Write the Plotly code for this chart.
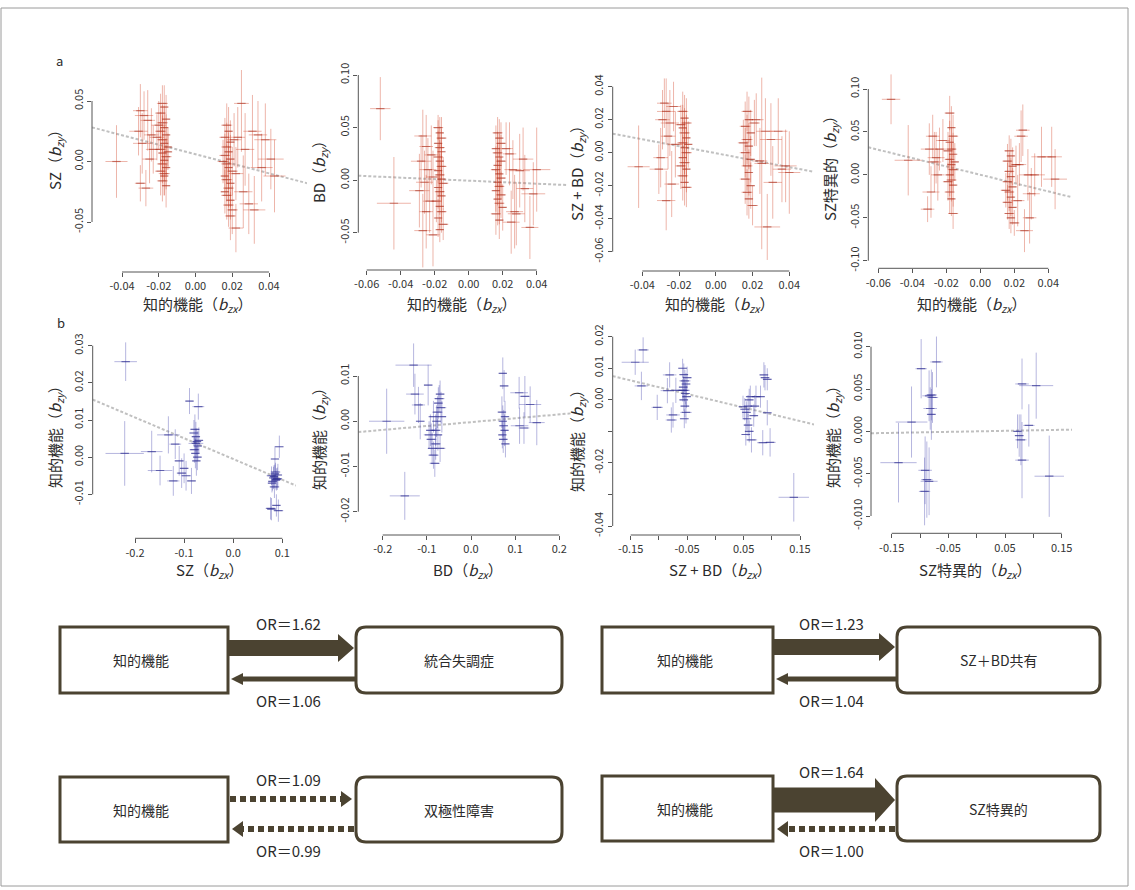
import plotly.graph_objects as go

W, H = 1135, 890
FONT = "Noto Sans CJK JP"
AXC = "#555555"
TXT = "#2b2b2b"
BROWN = "#4b4331"

# ---------------- data: (x, y, se_x, se_y) per SNP ----------------
a1_points = [
    (-0.018, 0.048, 0.003, 0.015), (-0.017, 0.045, 0.002, 0.018), (-0.019, 0.040, 0.003, 0.016),
    (-0.016, 0.035, 0.002, 0.020), (-0.018, 0.032, 0.003, 0.015), (-0.017, 0.028, 0.002, 0.018),
    (-0.019, 0.025, 0.003, 0.016), (-0.016, 0.022, 0.002, 0.017), (-0.018, 0.018, 0.003, 0.020),
    (-0.017, 0.015, 0.002, 0.015), (-0.015, 0.012, 0.002, 0.016), (-0.019, 0.010, 0.003, 0.018),
    (-0.018, 0.007, 0.002, 0.020), (-0.016, 0.004, 0.003, 0.015), (-0.017, 0.001, 0.002, 0.017),
    (-0.018, -0.002, 0.003, 0.016), (-0.016, -0.005, 0.002, 0.018), (-0.019, -0.008, 0.003, 0.020),
    (-0.017, -0.012, 0.002, 0.016), (-0.018, -0.016, 0.003, 0.017), (-0.016, -0.020, 0.002, 0.018),
    (-0.020, 0.030, 0.004, 0.020), (-0.021, 0.020, 0.004, 0.019), (-0.015, 0.008, 0.002, 0.015),
    (-0.017, -0.010, 0.003, 0.018),
    (-0.030, 0.042, 0.004, 0.022), (-0.028, 0.038, 0.005, 0.020), (-0.026, 0.034, 0.004, 0.025),
    (-0.031, 0.025, 0.005, 0.020), (-0.024, 0.022, 0.004, 0.022), (-0.029, 0.015, 0.005, 0.025),
    (-0.023, 0.010, 0.004, 0.020), (-0.030, -0.018, 0.003, 0.015), (-0.027, -0.022, 0.004, 0.015),
    (-0.025, 0.002, 0.004, 0.020), (-0.043, 0.000, 0.006, 0.030),
    (0.017, 0.030, 0.003, 0.018), (0.018, 0.025, 0.002, 0.020), (0.016, 0.020, 0.003, 0.016),
    (0.019, 0.016, 0.002, 0.018), (0.017, 0.012, 0.003, 0.020), (0.018, 0.008, 0.002, 0.016),
    (0.016, 0.005, 0.003, 0.018), (0.019, 0.002, 0.002, 0.020), (0.017, -0.002, 0.003, 0.016),
    (0.018, -0.005, 0.002, 0.018), (0.020, -0.008, 0.003, 0.020), (0.016, -0.012, 0.002, 0.016),
    (0.017, -0.015, 0.003, 0.018), (0.019, -0.018, 0.002, 0.020), (0.018, -0.022, 0.003, 0.016),
    (0.016, -0.025, 0.002, 0.018), (0.017, -0.028, 0.003, 0.020), (0.019, -0.032, 0.002, 0.016),
    (0.018, -0.036, 0.003, 0.018), (0.020, -0.040, 0.003, 0.020), (0.019, -0.045, 0.003, 0.020),
    (0.021, 0.018, 0.004, 0.022), (0.022, -0.010, 0.004, 0.022), (0.015, 0.000, 0.003, 0.018),
    (0.025, 0.048, 0.004, 0.040), (0.023, 0.020, 0.004, 0.025), (0.027, 0.010, 0.005, 0.030),
    (0.031, 0.025, 0.005, 0.030), (0.034, 0.022, 0.005, 0.028), (0.038, 0.018, 0.006, 0.030),
    (0.041, 0.002, 0.007, 0.025), (0.043, -0.012, 0.006, 0.030), (0.029, -0.035, 0.005, 0.025),
    (0.032, -0.040, 0.006, 0.028), (0.026, -0.025, 0.005, 0.030), (0.022, -0.055, 0.004, 0.020),
    (0.036, -0.005, 0.006, 0.028),
]

a2_points = [
    (-0.052, 0.068, 0.006, 0.030), (-0.044, -0.022, 0.010, 0.044),
    (-0.018, 0.050, 0.003, 0.012), (-0.017, 0.045, 0.002, 0.015), (-0.016, 0.040, 0.003, 0.020),
    (-0.018, 0.035, 0.002, 0.022), (-0.017, 0.031, 0.003, 0.020), (-0.016, 0.027, 0.002, 0.022),
    (-0.018, 0.022, 0.003, 0.025), (-0.017, 0.018, 0.002, 0.020), (-0.016, 0.013, 0.003, 0.022),
    (-0.018, 0.009, 0.002, 0.025), (-0.017, 0.005, 0.003, 0.020), (-0.016, 0.001, 0.002, 0.022),
    (-0.015, -0.003, 0.003, 0.025), (-0.018, -0.007, 0.002, 0.020), (-0.017, -0.011, 0.003, 0.022),
    (-0.016, -0.015, 0.002, 0.025), (-0.019, -0.020, 0.003, 0.020), (-0.017, -0.025, 0.002, 0.022),
    (-0.016, -0.030, 0.003, 0.020), (-0.018, -0.036, 0.002, 0.018), (-0.015, -0.042, 0.003, 0.015),
    (-0.017, -0.047, 0.002, 0.012),
    (-0.027, 0.042, 0.005, 0.025), (-0.025, 0.032, 0.004, 0.030), (-0.022, 0.024, 0.004, 0.028),
    (-0.028, 0.018, 0.006, 0.025), (-0.024, 0.010, 0.005, 0.030), (-0.021, 0.003, 0.004, 0.025),
    (-0.026, -0.002, 0.005, 0.030), (-0.029, -0.010, 0.006, 0.035), (-0.023, -0.020, 0.004, 0.030),
    (-0.027, -0.048, 0.005, 0.035), (-0.021, -0.052, 0.004, 0.030), (-0.025, -0.030, 0.004, 0.035),
    (0.017, 0.045, 0.003, 0.015), (0.018, 0.040, 0.002, 0.018), (0.019, 0.035, 0.003, 0.020),
    (0.016, 0.030, 0.002, 0.022), (0.017, 0.026, 0.003, 0.020), (0.018, 0.022, 0.002, 0.022),
    (0.019, 0.018, 0.003, 0.025), (0.017, 0.014, 0.002, 0.020), (0.016, 0.010, 0.003, 0.022),
    (0.018, 0.006, 0.002, 0.025), (0.019, 0.002, 0.003, 0.020), (0.017, -0.002, 0.002, 0.022),
    (0.018, -0.006, 0.003, 0.025), (0.016, -0.010, 0.002, 0.020), (0.019, -0.014, 0.003, 0.022),
    (0.017, -0.018, 0.002, 0.025), (0.018, -0.022, 0.003, 0.020), (0.020, -0.026, 0.002, 0.022),
    (0.016, -0.032, 0.003, 0.020), (0.018, -0.038, 0.002, 0.018),
    (0.022, 0.030, 0.004, 0.025), (0.024, 0.025, 0.004, 0.030), (0.026, 0.010, 0.005, 0.028),
    (0.028, -0.032, 0.005, 0.030), (0.030, 0.009, 0.006, 0.035), (0.032, 0.020, 0.006, 0.030),
    (0.033, -0.008, 0.005, 0.032), (0.036, -0.045, 0.005, 0.030), (0.038, -0.013, 0.007, 0.030),
    (0.040, 0.010, 0.008, 0.040), (0.025, -0.040, 0.005, 0.030), (0.027, -0.030, 0.005, 0.035),
]

a3_points = [
    (-0.042, -0.0085, 0.006, 0.025),
    (-0.028, 0.030, 0.004, 0.015), (-0.027, 0.025, 0.005, 0.020), (-0.029, 0.020, 0.004, 0.018),
    (-0.025, 0.018, 0.005, 0.020), (-0.023, 0.028, 0.004, 0.015), (-0.030, -0.003, 0.004, 0.018),
    (-0.031, -0.010, 0.005, 0.015), (-0.024, -0.019, 0.004, 0.020), (-0.027, -0.029, 0.005, 0.018),
    (-0.022, 0.005, 0.004, 0.020), (-0.026, 0.010, 0.004, 0.020),
    (-0.018, 0.025, 0.003, 0.012), (-0.017, 0.021, 0.002, 0.014), (-0.016, 0.018, 0.003, 0.015),
    (-0.018, 0.015, 0.002, 0.014), (-0.017, 0.012, 0.003, 0.015), (-0.016, 0.009, 0.002, 0.014),
    (-0.018, 0.006, 0.003, 0.015), (-0.017, 0.003, 0.002, 0.016), (-0.016, 0.000, 0.003, 0.015),
    (-0.018, -0.003, 0.002, 0.014), (-0.017, -0.006, 0.003, 0.015), (-0.016, -0.010, 0.002, 0.014),
    (-0.018, -0.014, 0.003, 0.015), (-0.017, -0.018, 0.002, 0.014), (-0.016, -0.021, 0.003, 0.012),
    (-0.019, 0.017, 0.003, 0.012), (-0.015, 0.005, 0.002, 0.014), (-0.019, -0.008, 0.003, 0.014),
    (0.017, 0.025, 0.003, 0.012), (0.018, 0.020, 0.002, 0.014), (0.016, 0.016, 0.003, 0.015),
    (0.019, 0.012, 0.002, 0.014), (0.017, 0.008, 0.003, 0.015), (0.018, 0.004, 0.002, 0.014),
    (0.016, 0.000, 0.003, 0.015), (0.019, -0.004, 0.002, 0.014), (0.017, -0.008, 0.003, 0.015),
    (0.018, -0.012, 0.002, 0.014), (0.016, -0.016, 0.003, 0.015), (0.019, -0.020, 0.002, 0.014),
    (0.017, -0.024, 0.003, 0.014), (0.018, -0.028, 0.002, 0.012), (0.020, -0.032, 0.003, 0.012),
    (0.021, 0.018, 0.003, 0.014), (0.015, 0.006, 0.003, 0.014),
    (0.022, 0.020, 0.004, 0.016), (0.025, -0.0065, 0.004, 0.052), (0.027, 0.013, 0.005, 0.020),
    (0.030, 0.008, 0.006, 0.022), (0.034, 0.013, 0.005, 0.020), (0.038, -0.008, 0.006, 0.022),
    (0.040, -0.012, 0.006, 0.025), (0.031, -0.018, 0.005, 0.022), (0.028, -0.045, 0.007, 0.020),
    (0.024, -0.005, 0.004, 0.020), (0.036, -0.010, 0.005, 0.020),
]

a4_points = [
    (-0.0525, 0.088, 0.0054, 0.029), (-0.0424, 0.017, 0.008, 0.041),
    (-0.030, 0.030, 0.005, 0.030), (-0.028, 0.045, 0.004, 0.025), (-0.026, 0.020, 0.005, 0.030),
    (-0.031, -0.040, 0.004, 0.015), (-0.029, -0.020, 0.005, 0.030), (-0.027, 0.015, 0.004, 0.035),
    (-0.024, 0.030, 0.004, 0.025), (-0.025, 0.000, 0.004, 0.030), (-0.022, 0.040, 0.004, 0.025),
    (-0.018, 0.072, 0.003, 0.020), (-0.017, 0.055, 0.002, 0.025), (-0.016, 0.045, 0.003, 0.025),
    (-0.018, 0.038, 0.002, 0.025), (-0.017, 0.030, 0.003, 0.025), (-0.016, 0.024, 0.002, 0.025),
    (-0.018, 0.018, 0.003, 0.025), (-0.017, 0.012, 0.002, 0.025), (-0.016, 0.006, 0.003, 0.025),
    (-0.018, 0.000, 0.002, 0.025), (-0.017, -0.006, 0.003, 0.025), (-0.016, -0.012, 0.002, 0.025),
    (-0.018, -0.020, 0.003, 0.025), (-0.017, -0.028, 0.002, 0.020), (-0.016, -0.045, 0.003, 0.018),
    (-0.019, 0.028, 0.003, 0.022), (-0.015, 0.015, 0.002, 0.022), (-0.019, -0.008, 0.003, 0.022),
    (0.017, 0.028, 0.003, 0.018), (0.018, 0.022, 0.002, 0.020), (0.016, 0.016, 0.003, 0.020),
    (0.019, 0.010, 0.002, 0.022), (0.017, 0.004, 0.003, 0.022), (0.018, -0.002, 0.002, 0.022),
    (0.016, -0.008, 0.003, 0.022), (0.019, -0.014, 0.002, 0.022), (0.017, -0.020, 0.003, 0.022),
    (0.018, -0.026, 0.002, 0.022), (0.016, -0.032, 0.003, 0.020), (0.019, -0.038, 0.002, 0.020),
    (0.017, -0.045, 0.003, 0.018), (0.018, -0.050, 0.002, 0.018), (0.020, -0.056, 0.003, 0.015),
    (0.021, 0.012, 0.003, 0.022), (0.015, -0.018, 0.003, 0.020),
    (0.024, 0.045, 0.004, 0.030), (0.025, 0.052, 0.004, 0.030), (0.028, 0.000, 0.005, 0.030),
    (0.030, -0.022, 0.005, 0.030), (0.032, 0.000, 0.006, 0.025), (0.029, -0.050, 0.004, 0.030),
    (0.026, -0.065, 0.005, 0.025), (0.036, 0.021, 0.006, 0.035), (0.042, 0.021, 0.006, 0.035),
    (0.044, -0.005, 0.007, 0.035), (0.022, -0.030, 0.004, 0.030), (0.023, 0.012, 0.004, 0.025),
]

b1_points = [
    (-0.219, 0.0257, 0.023, 0.0052), (-0.221, 0.0010, 0.039, 0.0087), (-0.166, 0.0015, 0.022, 0.0056),
    (-0.149, -0.0036, 0.025, 0.0040), (-0.132, 0.0060, 0.023, 0.0050), (-0.118, 0.0035, 0.012, 0.0040),
    (-0.122, -0.0064, 0.0125, 0.0040), (-0.110, -0.0010, 0.010, 0.0040), (-0.105, -0.0043, 0.010, 0.0040),
    (-0.100, -0.0030, 0.009, 0.0040), (-0.096, -0.0050, 0.010, 0.0040), (-0.085, -0.0064, 0.0092, 0.0035),
    (-0.089, 0.0151, 0.008, 0.0035), (-0.071, 0.0136, 0.012, 0.0035), (-0.078, 0.0075, 0.010, 0.0040),
    (-0.076, 0.0055, 0.008, 0.0040), (-0.074, 0.0042, 0.009, 0.0035), (-0.072, 0.0030, 0.008, 0.0040),
    (-0.079, 0.0020, 0.010, 0.0035), (-0.077, 0.0010, 0.008, 0.0040), (-0.073, 0.0000, 0.009, 0.0035),
    (-0.075, -0.0010, 0.008, 0.0040), (-0.080, 0.0065, 0.010, 0.0035), (-0.070, 0.0045, 0.009, 0.0035),
    (-0.076, 0.0037, 0.015, 0.0040),
    (0.078, -0.0050, 0.010, 0.0025), (0.082, -0.0056, 0.009, 0.0030), (0.085, -0.0045, 0.008, 0.0025),
    (0.088, -0.0060, 0.010, 0.0030), (0.080, -0.0065, 0.009, 0.0025), (0.083, -0.0052, 0.008, 0.0030),
    (0.086, -0.0040, 0.010, 0.0025), (0.090, -0.0058, 0.009, 0.0030), (0.079, -0.0070, 0.008, 0.0025),
    (0.084, -0.0080, 0.010, 0.0030), (0.087, -0.0062, 0.009, 0.0025), (0.091, -0.0048, 0.008, 0.0030),
    (0.076, -0.0138, 0.010, 0.0030), (0.094, 0.0028, 0.008, 0.0030), (0.085, -0.0005, 0.008, 0.0035),
    (0.078, -0.0140, 0.009, 0.0030), (0.092, -0.0144, 0.010, 0.0030), (0.088, -0.0130, 0.008, 0.0030),
]

b2_points = [
    (-0.191, 0.0000, 0.040, 0.0072), (-0.150, -0.0165, 0.034, 0.0053), (-0.130, 0.0124, 0.041, 0.0048),
    (-0.127, 0.0060, 0.020, 0.0045), (-0.119, 0.0036, 0.015, 0.0040), (-0.097, 0.0080, 0.010, 0.0045),
    (-0.115, 0.0000, 0.010, 0.0040), (-0.095, -0.0030, 0.012, 0.0030), (-0.090, -0.0040, 0.012, 0.0035),
    (-0.088, -0.0060, 0.010, 0.0035), (-0.085, -0.0075, 0.012, 0.0030), (-0.082, -0.0093, 0.012, 0.0030),
    (-0.080, -0.0020, 0.012, 0.0035), (-0.078, 0.0000, 0.010, 0.0035), (-0.076, 0.0020, 0.012, 0.0035),
    (-0.074, 0.0040, 0.010, 0.0035), (-0.072, 0.0050, 0.012, 0.0030), (-0.070, 0.0060, 0.010, 0.0030),
    (-0.068, 0.0030, 0.012, 0.0035), (-0.066, 0.0010, 0.010, 0.0035), (-0.080, -0.0050, 0.012, 0.0035),
    (-0.075, -0.0030, 0.010, 0.0035), (-0.070, -0.0060, 0.012, 0.0030), (-0.085, 0.0010, 0.012, 0.0035),
    (-0.092, -0.0020, 0.010, 0.0035),
    (0.072, 0.0106, 0.008, 0.0035), (0.075, 0.0078, 0.010, 0.0035), (0.070, 0.0020, 0.008, 0.0035),
    (0.072, 0.0000, 0.008, 0.0035), (0.074, -0.0010, 0.010, 0.0035), (0.076, -0.0020, 0.008, 0.0035),
    (0.071, -0.0030, 0.008, 0.0030), (0.073, -0.0040, 0.010, 0.0030), (0.077, 0.0010, 0.008, 0.0035),
    (0.078, -0.0050, 0.008, 0.0030), (0.109, 0.0063, 0.020, 0.0035), (0.122, 0.0055, 0.012, 0.0045),
    (0.134, 0.0037, 0.025, 0.0040), (0.110, -0.0010, 0.020, 0.0040), (0.149, -0.0003, 0.018, 0.0050),
    (0.120, -0.0015, 0.012, 0.0035),
]

b3_points = [
    (-0.142, 0.0119, 0.024, 0.0040), (-0.128, 0.0158, 0.010, 0.0040), (-0.131, 0.0044, 0.012, 0.0045),
    (-0.103, -0.0024, 0.010, 0.0040), (-0.081, 0.0079, 0.012, 0.0040), (-0.085, 0.0029, 0.012, 0.0040),
    (-0.075, -0.0048, 0.012, 0.0040), (-0.078, -0.0064, 0.010, 0.0040), (-0.070, 0.0030, 0.010, 0.0040),
    (-0.058, 0.0100, 0.008, 0.0030), (-0.056, 0.0080, 0.008, 0.0035), (-0.054, 0.0060, 0.010, 0.0035),
    (-0.052, 0.0050, 0.008, 0.0035), (-0.057, 0.0040, 0.008, 0.0035), (-0.055, 0.0030, 0.010, 0.0035),
    (-0.053, 0.0020, 0.008, 0.0035), (-0.051, 0.0010, 0.008, 0.0035), (-0.056, 0.0000, 0.008, 0.0035),
    (-0.054, -0.0020, 0.008, 0.0035), (-0.052, -0.0040, 0.010, 0.0035), (-0.055, -0.0060, 0.008, 0.0030),
    (-0.050, 0.0070, 0.008, 0.0035), (-0.058, 0.0030, 0.010, 0.0035),
    (0.049, -0.0022, 0.008, 0.0035), (0.052, -0.0030, 0.008, 0.0035), (0.055, -0.0040, 0.008, 0.0035),
    (0.058, -0.0020, 0.008, 0.0035), (0.060, 0.0000, 0.008, 0.0035), (0.062, 0.0010, 0.008, 0.0035),
    (0.056, -0.0060, 0.008, 0.0035), (0.058, -0.0080, 0.008, 0.0035), (0.060, -0.0100, 0.008, 0.0035),
    (0.054, -0.0110, 0.008, 0.0035), (0.064, -0.0127, 0.010, 0.0040), (0.068, -0.0050, 0.008, 0.0035),
    (0.070, -0.0020, 0.008, 0.0035), (0.072, 0.0010, 0.008, 0.0035), (0.080, 0.0010, 0.008, 0.0035),
    (0.086, 0.0079, 0.008, 0.0040), (0.088, 0.0070, 0.008, 0.0040), (0.092, 0.0065, 0.008, 0.0035),
    (0.092, -0.0041, 0.008, 0.0040), (0.084, -0.0136, 0.010, 0.0040), (0.097, -0.0135, 0.010, 0.0045),
    (0.139, -0.0309, 0.027, 0.0077),
]

b4_points = [
    (-0.138, -0.0037, 0.032, 0.0047), (-0.115, 0.0011, 0.028, 0.0042), (-0.098, 0.0074, 0.010, 0.0035),
    (-0.084, 0.0042, 0.012, 0.0030), (-0.080, 0.0043, 0.010, 0.0030), (-0.082, 0.0027, 0.012, 0.0025),
    (-0.078, 0.0040, 0.010, 0.0030), (-0.071, 0.0082, 0.011, 0.0030), (-0.091, -0.0046, 0.012, 0.0040),
    (-0.088, -0.0057, 0.010, 0.0045), (-0.092, -0.0071, 0.010, 0.0040), (-0.084, -0.0059, 0.015, 0.0040),
    (-0.080, 0.0020, 0.008, 0.0030),
    (0.080, 0.0056, 0.012, 0.0030), (0.105, 0.0054, 0.030, 0.0039), (0.075, -0.0005, 0.008, 0.0025),
    (0.078, -0.0010, 0.010, 0.0030), (0.080, -0.0034, 0.012, 0.0045), (0.092, 0.0007, 0.010, 0.0025),
    (0.072, 0.0000, 0.006, 0.0020), (0.128, -0.0053, 0.026, 0.0048),
]

# regression (MR slope, intercept) per panel
reg_slopes = [-0.394, -0.072, -0.211, -0.485, -0.0559, 0.0086, -0.0429, 0.0012]
reg_intercepts = [0.006, -0.0005, -0.0003, 0.0001, -0.0005, -0.0002, -0.0003, 0.0]

# axis ticks & labels (labelled ticks, plus unlabelled minor ticks)
a1_xticks = [-0.04, -0.02, 0.0, 0.02, 0.04]
a1_xlabels = ["-0.04", "-0.02", "0.00", "0.02", "0.04"]
a2_xticks = [-0.06, -0.04, -0.02, 0.0, 0.02, 0.04]
a2_xlabels = ["-0.06", "-0.04", "-0.02", "0.00", "0.02", "0.04"]
a1_yticks = [-0.05, 0.0, 0.05]
a1_ylabels = ["-0.05", "0.00", "0.05"]
a2_yticks = [-0.05, 0.0, 0.05, 0.10]
a2_ylabels = ["-0.05", "0.00", "0.05", "0.10"]
a3_yticks = [-0.06, -0.04, -0.02, 0.0, 0.02, 0.04]
a3_ylabels = ["-0.06", "-0.04", "-0.02", "0.00", "0.02", "0.04"]
a4_yticks = [-0.10, -0.05, 0.0, 0.05, 0.10]
a4_ylabels = ["-0.10", "-0.05", "0.00", "0.05", "0.10"]
b1_xticks = [-0.2, -0.1, 0.0, 0.1]
b1_xlabels = ["-0.2", "-0.1", "0.0", "0.1"]
b2_xticks = [-0.2, -0.1, 0.0, 0.1, 0.2]
b2_xlabels = ["-0.2", "-0.1", "0.0", "0.1", "0.2"]
b3_xticks = [-0.15, -0.05, 0.05, 0.15]
b3_xlabels = ["-0.15", "-0.05", "0.05", "0.15"]
b3_xminor = [-0.10, 0.0, 0.10]
b1_yticks = [-0.01, 0.0, 0.01, 0.02, 0.03]
b1_ylabels = ["-0.01", "0.00", "0.01", "0.02", "0.03"]
b2_yticks = [-0.02, -0.01, 0.0, 0.01]
b2_ylabels = ["-0.02", "-0.01", "0.00", "0.01"]
b3_yticks = [-0.04, -0.02, 0.0, 0.01, 0.02]
b3_ylabels = ["-0.04", "-0.02", "0.00", "0.01", "0.02"]
b3_yminor = [-0.03, -0.01]
b4_yticks = [-0.010, -0.005, 0.0, 0.005, 0.010]
b4_ylabels = ["-0.010", "-0.005", "0.000", "0.005", "0.010"]

traits = ["SZ", "BD", "SZ + BD", "SZ特異的"]
cognition = "知的機能"

# diagram data
outcomes = ["統合失調症", "SZ＋BD共有", "双極性障害", "SZ特異的"]
or_forward = [1.62, 1.23, 1.09, 1.64]
or_backward = [1.06, 1.04, 0.99, 1.00]
sig_forward = [True, True, False, True]
sig_backward = [True, True, False, False]


# ---------------- helpers ----------------
def X(p):
    return p / W


def Y(p):
    return 1 - p / H


def cal_range(v1, p1, v2, p2, pa, pb):
    k = (v2 - v1) / (p2 - p1)
    return [v1 + (pa - p1) * k, v1 + (pb - p1) * k]


def btitle(name, sub):
    return f"{name}（<i>b</i><sub><i>{sub}</i></sub>）"


def label(text, px, py, size, angle=0):
    return dict(text=text, xref="paper", yref="paper", x=X(px), y=Y(py), showarrow=False,
                xanchor="center", yanchor="middle", textangle=angle,
                font=dict(size=size, color=TXT, family=FONT))


RED_BAR = "rgba(212,78,52,0.42)"
RED_MK = "rgba(165,45,30,0.55)"
BLUE_BAR = "rgba(72,72,175,0.40)"
BLUE_MK = "rgba(40,40,140,0.6)"

panel_cfg = [
    dict(pts=a1_points, col=(RED_BAR, RED_MK), xcal=(-0.04, 122, 0.04, 269), ycal=(0.05, 101, -0.05, 222),
         box=(92, 307, 70, 272), xt=(a1_xticks, a1_xlabels, []), yt=(a1_yticks, a1_ylabels, []),
         xtitle=btitle(cognition, "zx"), xtpos=(198, 304), ytitle=btitle(traits[0], "zy"), ytpos=(55, 156)),
    dict(pts=a2_points, col=(RED_BAR, RED_MK), xcal=(-0.06, 366.7, 0.04, 536.7), ycal=(0.10, 75, -0.05, 232.7),
         box=(358.3, 567, 62, 270), xt=(a2_xticks, a2_xlabels, []), yt=(a2_yticks, a2_ylabels, []),
         xtitle=btitle(cognition, "zx"), xtpos=(462, 304), ytitle=btitle(traits[1], "zy"), ytpos=(319, 168)),
    dict(pts=a3_points, col=(RED_BAR, RED_MK), xcal=(-0.04, 642.3, 0.04, 789.3), ycal=(0.04, 86.7, -0.06, 251.7),
         box=(612.7, 813, 70, 271), xt=(a1_xticks, a1_xlabels, []), yt=(a3_yticks, a3_ylabels, []),
         xtitle=btitle(cognition, "zx"), xtpos=(720, 304), ytitle=btitle(traits[2], "zy"), ytpos=(577, 170)),
    dict(pts=a4_points, col=(RED_BAR, RED_MK), xcal=(-0.06, 878.3, 0.04, 1048.3), ycal=(0.10, 89, -0.10, 260.7),
         box=(868.3, 1072, 65, 268.3), xt=(a2_xticks, a2_xlabels, []), yt=(a4_yticks, a4_ylabels, []),
         xtitle=btitle(cognition, "zx"), xtpos=(972, 304), ytitle=btitle(traits[3], "zy"), ytpos=(830, 165)),
    dict(pts=b1_points, col=(BLUE_BAR, BLUE_MK), xcal=(-0.2, 135, 0.1, 282.3), ycal=(0.03, 345.7, -0.01, 494.3),
         box=(92.7, 296, 335, 538.3), xt=(b1_xticks, b1_xlabels, []), yt=(b1_yticks, b1_ylabels, []),
         xtitle=btitle(traits[0], "zx"), xtpos=(210, 570), ytitle=btitle(cognition, "zy"), ytpos=(55, 433)),
    dict(pts=b2_points, col=(BLUE_BAR, BLUE_MK), xcal=(-0.2, 382.7, 0.2, 559.3), ycal=(0.01, 376, -0.02, 511.7),
         box=(358.3, 571, 335, 535), xt=(b2_xticks, b2_xlabels, []), yt=(b2_yticks, b2_ylabels, []),
         xtitle=btitle(traits[1], "zx"), xtpos=(468, 570), ytitle=btitle(cognition, "zy"), ytpos=(319, 435)),
    dict(pts=b3_points, col=(BLUE_BAR, BLUE_MK), xcal=(-0.15, 630.7, 0.15, 800), ycal=(0.02, 336.7, -0.04, 526),
         box=(612.7, 814, 330, 535), xt=(b3_xticks, b3_xlabels, b3_xminor), yt=(b3_yticks, b3_ylabels, b3_yminor),
         xtitle=btitle(traits[2], "zx"), xtpos=(720, 570), ytitle=btitle(cognition, "zy"), ytpos=(577, 437)),
    dict(pts=b4_points, col=(BLUE_BAR, BLUE_MK), xcal=(-0.15, 891.7, 0.15, 1061.7), ycal=(0.010, 346.7, -0.010, 516),
         box=(871, 1072, 335, 533.3), xt=(b3_xticks, b3_xlabels, b3_xminor), yt=(b4_yticks, b4_ylabels, []),
         xtitle=btitle(traits[3], "zx"), xtpos=(975, 570), ytitle=btitle(cognition, "zy"), ytpos=(833, 433)),
]

fig = go.Figure()
layout = dict(
    template="none",
    width=W, height=H, margin=dict(l=0, r=0, t=0, b=0, pad=0),
    paper_bgcolor="white", plot_bgcolor="rgba(0,0,0,0)",
    showlegend=False, font=dict(family=FONT, color=TXT),
)
shapes = []
annotations = []

for i, cfg in enumerate(panel_cfg):
    n = i + 1
    xa = "x" if n == 1 else f"x{n}"
    ya = "y" if n == 1 else f"y{n}"
    left, right, top, bottom = cfg["box"]
    xr = cal_range(*cfg["xcal"], left, right)
    yr = cal_range(*cfg["ycal"], bottom, top)
    xkey = "xaxis" if n == 1 else f"xaxis{n}"
    ykey = "yaxis" if n == 1 else f"yaxis{n}"
    xt, xl, xm = cfg["xt"]
    yt, yl, ym = cfg["yt"]
    common = dict(showgrid=False, zeroline=False, showline=False, ticks="outside", ticklen=4,
                  tickwidth=1, tickcolor=AXC, fixedrange=True, automargin=False,
                  tickfont=dict(family=FONT, size=11, color="#333"))
    xminor = dict(tickmode="array", tickvals=xm, ticks="outside", ticklen=4, tickwidth=1,
                  tickcolor=AXC, showgrid=False) if xm else dict(ticks="")
    yminor = dict(tickmode="array", tickvals=ym, ticks="outside", ticklen=4, tickwidth=1,
                  tickcolor=AXC, showgrid=False) if ym else dict(ticks="")
    layout[xkey] = dict(domain=[X(left), X(right)], range=xr, anchor=ya, minor=xminor,
                        tickmode="array", tickvals=xt, ticktext=xl, **common)
    layout[ykey] = dict(domain=[Y(bottom), Y(top)], range=yr, anchor=xa, minor=yminor,
                        tickmode="array", tickvals=yt, ticktext=yl, tickangle=-90, **common)
    allx = sorted(xt + xm)
    ally = sorted(yt + ym)
    shapes.append(dict(type="line", xref=xa, yref=f"{ya} domain", x0=allx[0], x1=allx[-1], y0=0, y1=0,
                       line=dict(color=AXC, width=1)))
    shapes.append(dict(type="line", xref=f"{xa} domain", yref=ya, x0=0, x1=0, y0=ally[0], y1=ally[-1],
                       line=dict(color=AXC, width=1)))
    fig.add_trace(go.Scatter(
        x=[xr[0], xr[1]], y=[reg_intercepts[i] + reg_slopes[i] * v for v in xr],
        mode="lines", line=dict(color="rgba(165,165,165,0.7)", width=2, dash="3px,2px"),
        xaxis=xa, yaxis=ya, hoverinfo="skip"))
    pts = cfg["pts"]
    bar_col, mk_col = cfg["col"]
    fig.add_trace(go.Scatter(
        x=[p[0] for p in pts], y=[p[1] for p in pts], mode="markers",
        marker=dict(symbol="line-ew", size=6, line=dict(width=1.2, color=mk_col)),
        error_x=dict(type="data", array=[p[2] for p in pts], visible=True, color=bar_col, thickness=1, width=0),
        error_y=dict(type="data", array=[p[3] for p in pts], visible=True, color=bar_col, thickness=1, width=0),
        xaxis=xa, yaxis=ya, hoverinfo="skip"))
    annotations.append(label(cfg["xtitle"], cfg["xtpos"][0], cfg["xtpos"][1], 15))
    annotations.append(label(cfg["ytitle"], cfg["ytpos"][0], cfg["ytpos"][1], 15, -90))

annotations.append(label("a", 59, 61, 13))
annotations.append(label("b", 61, 322, 13))

# ---------------- diagram ----------------
left_box_x = [(60, 228), (602, 773), (60, 228), (602, 773)]
right_box_x = [(356, 562), (897, 1100), (356, 562), (897, 1100)]
box_y = [(627, 693), (627, 693), (777, 842), (776, 841)]
fwd_yc = [648, 647, 799, 800]
bwd_yc = [679, 679, 829, 829]
solid_fwd_geom = [(16, 16, 14), (16, 16, 14), None, (25, 20, 22)]
top_label_y = [623, 623, 779, 771]
bot_label_y = [700, 700, 850, 850]


def pstr(pts):
    return "M " + " L ".join(f"{X(a):.5f},{Y(b):.5f}" for a, b in pts) + " Z"


def arrow_path(x_from, x_to, yc, t, hl, hh):
    d = 1 if x_to > x_from else -1
    xb = x_to - d * hl
    pts = [(x_from, yc - t / 2), (xb, yc - t / 2), (xb, yc - hh), (x_to, yc),
           (xb, yc + hh), (xb, yc + t / 2), (x_from, yc + t / 2)]
    return pstr(pts)


def head_path(x_to, yc, hl, hh, d):
    xb = x_to - d * hl
    return pstr([(xb, yc - hh), (x_to, yc), (xb, yc + hh)])


def rrect_path(x0, y0, x1, y1, r):
    def P(a, b):
        return f"{X(a):.5f},{Y(b):.5f}"
    return (f"M {P(x0 + r, y0)} L {P(x1 - r, y0)} Q {P(x1, y0)} {P(x1, y0 + r)} "
            f"L {P(x1, y1 - r)} Q {P(x1, y1)} {P(x1 - r, y1)} L {P(x0 + r, y1)} "
            f"Q {P(x0, y1)} {P(x0, y1 - r)} L {P(x0, y0 + r)} Q {P(x0, y0)} {P(x0 + r, y0)} Z")


def dashed_arrow(x_from, x_to, yc, d):
    hl, hh, t = 11, 8, 6
    xb = x_to - d * hl
    shapes.append(dict(type="line", xref="paper", yref="paper", x0=X(x_from), x1=X(xb), y0=Y(yc), y1=Y(yc),
                       line=dict(color=BROWN, width=t, dash="6px,4px")))
    shapes.append(dict(type="path", xref="paper", yref="paper", path=head_path(x_to, yc, hl, hh, d),
                       fillcolor=BROWN, line=dict(color=BROWN, width=0)))


for i in range(4):
    lx0, lx1 = left_box_x[i]
    rx0, rx1 = right_box_x[i]
    by0, by1 = box_y[i]
    shapes.append(dict(type="rect", xref="paper", yref="paper", x0=X(lx0), x1=X(lx1), y0=Y(by1), y1=Y(by0),
                       line=dict(color=BROWN, width=3), fillcolor="white"))
    shapes.append(dict(type="path", xref="paper", yref="paper", path=rrect_path(rx0, by0, rx1, by1, 10),
                       line=dict(color=BROWN, width=3), fillcolor="white"))
    if sig_forward[i]:
        t, hl, hh = solid_fwd_geom[i]
        shapes.append(dict(type="path", xref="paper", yref="paper",
                           path=arrow_path(lx1 + 1, rx0 - 2, fwd_yc[i], t, hl, hh),
                           fillcolor=BROWN, line=dict(color=BROWN, width=0)))
    else:
        dashed_arrow(lx1 + 2, rx0 - 4, fwd_yc[i], 1)
    if sig_backward[i]:
        shapes.append(dict(type="path", xref="paper", yref="paper",
                           path=arrow_path(rx0 - 1, lx1 + 3, bwd_yc[i], 5, 12, 6),
                           fillcolor=BROWN, line=dict(color=BROWN, width=0)))
    else:
        dashed_arrow(rx0 - 2, lx1 + 4, bwd_yc[i], -1)
    mid = (lx1 + rx0) / 2
    annotations.append(label(f"OR＝{or_forward[i]:.2f}", mid - 4, top_label_y[i], 15))
    annotations.append(label(f"OR＝{or_backward[i]:.2f}", mid - 4, bot_label_y[i], 15))
    annotations.append(label(cognition, (lx0 + lx1) / 2 - 3, (by0 + by1) / 2, 14))
    annotations.append(label(outcomes[i], (rx0 + rx1) / 2, (by0 + by1) / 2, 14))

shapes.append(dict(type="rect", xref="paper", yref="paper", x0=X(1), x1=X(1128), y0=Y(886), y1=Y(8),
                   line=dict(color="#9a9a9a", width=1), fillcolor="rgba(0,0,0,0)", layer="below"))

layout["shapes"] = shapes
layout["annotations"] = annotations
fig.update_layout(**layout)

fig.write_html("out.html", config={"displayModeBar": False},
               post_script="document.body.style.margin='0';document.body.style.overflow='hidden';")
